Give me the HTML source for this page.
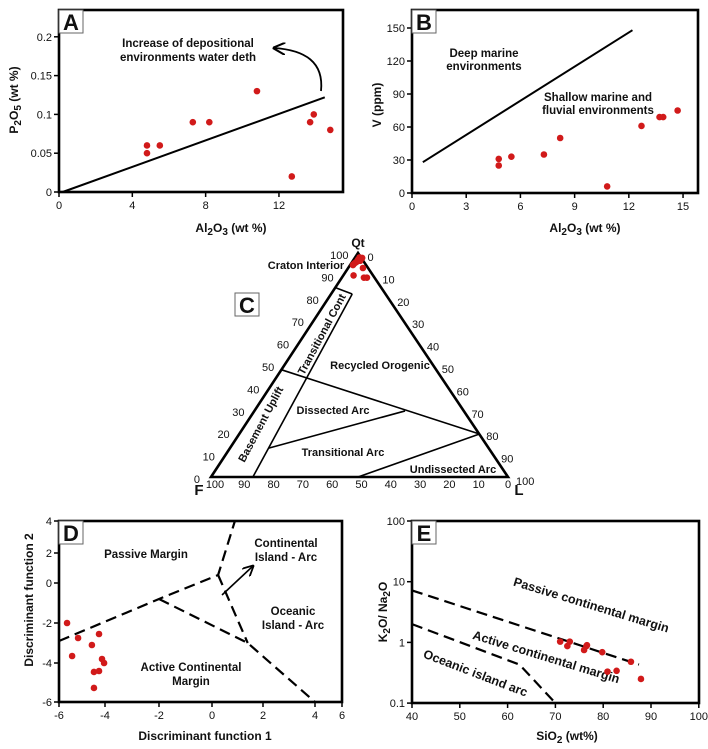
<!DOCTYPE html>
<html><head><meta charset="utf-8">
<style>
html,body{margin:0;padding:0;background:#fff;}
svg{display:block;font-family:"Liberation Sans",Arial,sans-serif;}
.tk{font-size:11px;fill:#111;}
.tt{font-size:12px;font-weight:bold;fill:#111;}
.an{font-size:11.5px;font-weight:bold;fill:#111;}
</style></head>
<body>
<svg id="chart" width="708" height="749" viewBox="0 0 708 749" xmlns="http://www.w3.org/2000/svg">
<defs>
<marker id="ah" viewBox="0 0 10 10" refX="9" refY="5" markerWidth="7" markerHeight="7" orient="auto-start-reverse">
<path d="M0,0 L10,5 L0,10" fill="none" stroke="#000" stroke-width="1.6"/>
</marker>
</defs>
</svg>
<script>
// ---------- Panel A data ----------
const aAl2O3 = [4.8, 4.8, 5.5, 7.3, 8.2, 10.8, 12.7, 13.7, 13.9, 14.8];
const aP2O5 = [0.06, 0.05, 0.06, 0.09, 0.09, 0.13, 0.02, 0.09, 0.10, 0.08];
const aLineX = [0.2, 14.5];
const aLineY = [0.0, 0.122];
const aXTicks = [0, 4, 8, 12];
const aYTicks = [0, 0.05, 0.1, 0.15, 0.2];
const aYTickLabels = ["0", "0.05", "0.1", "0.15", "0.2"];
// ---------- Panel B data ----------
const bAl2O3 = [4.8, 4.8, 5.5, 7.3, 8.2, 10.8, 12.7, 13.7, 13.9, 14.7];
const bV = [31, 25, 33, 35, 50, 6, 61, 69, 69, 75];
const bLineX = [0.6, 12.2];
const bLineY = [28, 148];
const bXTicks = [0, 3, 6, 9, 12, 15];
const bYTicks = [0, 30, 60, 90, 120, 150];
// ---------- Panel C data (Qt, F, L %) ----------
const cQt = [98, 95.5, 94.6, 97, 97.8, 93.3, 90, 89, 89, 96, 95, 96.5];
const cF = [1, 3.8, 4.9, 2, 0.2, 2.2, 7, 4, 3, 3, 4.5, 1.5];
const cL = [1, 0.7, 0.5, 1, 2, 4.5, 3, 7, 8, 1, 0.5, 2];
const cAxisTicks = [0, 10, 20, 30, 40, 50, 60, 70, 80, 90, 100];
// ---------- Panel D data ----------
const dF1 = [-5.65, -5.17, -5.43, -4.26, -4.57, -4.13, -4.04, -4.48, -4.26, -4.48];
const dF2 = [-2.0, -2.75, -3.65, -2.55, -3.1, -3.8, -4.0, -4.46, -4.41, -5.28];
const dXTicks = [-6, -4, -2, 0, 2, 4, 6];
const dYTicks = [4, 2, 0, -2, -4, -6];
// ---------- Panel E data ----------
const eSiO2 = [71, 73, 72.5, 76.5, 76.6, 76, 79.8, 80.9, 82.8, 85.8, 87.9];
const eRatio = [1.03, 1.03, 0.87, 0.87, 0.9, 0.75, 0.69, 0.33, 0.34, 0.48, 0.25];
const eXTicks = [40, 50, 60, 70, 80, 90, 100];
const eYTicks = [0.1, 1, 10, 100];
const eYTickLabels = ["0.1", "1", "10", "100"];

const NS = "http://www.w3.org/2000/svg";
const svg = document.getElementById('chart');
function mk(tag, attrs, parent) {
  const e = document.createElementNS(NS, tag);
  for (const k in attrs) e.setAttribute(k, attrs[k]);
  (parent || svg).appendChild(e);
  return e;
}
function txt(x, y, s, cls, anchor, parent) {
  const t = mk('text', {x: x, y: y, class: cls, 'text-anchor': anchor || 'middle'}, parent);
  t.innerHTML = s;
  return t;
}
function frame(x0, y0, x1, y1, name) {
  const r = mk('rect', {x: x0, y: y0, width: x1 - x0, height: y1 - y0, fill: 'none', stroke: '#000', 'stroke-width': 2.6});
  
  
}
function letterBox(x, y, L, name) {
  const g = mk('g', {});
  
  
  mk('rect', {x: x, y: y, width: 24, height: 23, fill: '#fff', stroke: '#666', 'stroke-width': 1}, g);
  txt(x + 12, y + 20, L, 'tt', 'middle', g).setAttribute('style', 'font-size:22px');
}
function dot(x, y, g) {
  const c = mk('circle', {cx: x, cy: y, r: 3.3, fill: '#d11a1a'}, g);
  
  
}
function xTicks(ticks, labels, sx, yb, g) {
  ticks.forEach((v, i) => {
    const x = sx(v);
    mk('line', {x1: x, y1: yb, x2: x, y2: yb + 5, stroke: '#000', 'stroke-width': 1.5}, g);
    const t = txt(x, yb + 17, labels[i], 'tk', 'middle', g);
    
    
  });
}
function yTicks(ticks, labels, sy, xl, g) {
  ticks.forEach((v, i) => {
    const y = sy(v);
    mk('line', {x1: xl - 5, y1: y, x2: xl, y2: y, stroke: '#000', 'stroke-width': 1.5}, g);
    const t = txt(xl - 7, y + 4, labels[i], 'tk', 'end', g);
    
    
  });
}
function pw(dom, rng) {
  return v => {
    for (let i = 0; i < dom.length - 1; i++) {
      const a = dom[i], b = dom[i + 1];
      if ((v - a) * (v - b) <= 0 || i === dom.length - 2) {
        return rng[i] + (v - a) / (b - a) * (rng[i + 1] - rng[i]);
      }
    }
  };
}

// ================= Panel A =================
(function () {
  const g = mk('g', {});
  
  
  const sx = v => 59 + v * 18.33, sy = v => 192 - v * 776;
  xTicks(aXTicks, aXTicks.map(String), sx, 192, g);
  yTicks(aYTicks, aYTickLabels, sy, 59, g);
  const ln = mk('line', {x1: sx(aLineX[0]), y1: sy(aLineY[0]), x2: sx(aLineX[1]), y2: sy(aLineY[1]), stroke: '#000', 'stroke-width': 2}, g);
  
  
  const ar = mk('path', {d: 'M321,91 C324,62 305,50 274,48', fill: 'none', stroke: '#000', 'stroke-width': 1.8, 'marker-end': 'url(#ah)'}, g);
  
  
  const a1 = txt(188, 47, 'Increase of depositional', 'an', 'middle', g);
  
  
  const a2 = txt(188, 61, 'environments water deth', 'an', 'middle', g);
  
  
  aAl2O3.forEach((v, i) => dot(sx(v), sy(aP2O5[i]), g));
  const xt = txt(231, 232, 'Al<tspan dy="3" style="font-size:10px">2</tspan><tspan dy="-3">O</tspan><tspan dy="3" style="font-size:10px">3</tspan><tspan dy="-3"> (wt %)</tspan>', 'tt', 'middle', g);
  
  
  const yt = txt(0, 0, 'P<tspan dy="3" style="font-size:10px">2</tspan><tspan dy="-3">O</tspan><tspan dy="3" style="font-size:10px">5</tspan><tspan dy="-3"> (wt %)</tspan>', 'tt', 'middle', g);
  yt.setAttribute('transform', 'translate(18,100) rotate(-90)');
  
  
  frame(59, 10, 343, 192, 'plot-frame-a');
  letterBox(59, 10, 'A', 'panel-label-a');
})();

// ================= Panel B =================
(function () {
  const g = mk('g', {});
  
  
  const sx = v => 412 + v * 18.07, sy = v => 193 - v * 1.1;
  xTicks(bXTicks, bXTicks.map(String), sx, 193, g);
  yTicks(bYTicks, bYTicks.map(String), sy, 412, g);
  const ln = mk('line', {x1: sx(bLineX[0]), y1: sy(bLineY[0]), x2: sx(bLineX[1]), y2: sy(bLineY[1]), stroke: '#000', 'stroke-width': 2}, g);
  
  
  const t1 = txt(484, 57, 'Deep marine', 'an', 'middle', g);
  
  
  const t2 = txt(484, 70, 'environments', 'an', 'middle', g);
  
  
  const t3 = txt(598, 101, 'Shallow marine and', 'an', 'middle', g);
  
  
  const t4 = txt(598, 114, 'fluvial environments', 'an', 'middle', g);
  
  
  bAl2O3.forEach((v, i) => dot(sx(v), sy(bV[i]), g));
  const xt = txt(585, 232, 'Al<tspan dy="3" style="font-size:10px">2</tspan><tspan dy="-3">O</tspan><tspan dy="3" style="font-size:10px">3</tspan><tspan dy="-3"> (wt %)</tspan>', 'tt', 'middle', g);
  
  
  const yt = txt(0, 0, 'V (ppm)', 'tt', 'middle', g);
  yt.setAttribute('transform', 'translate(381,105) rotate(-90)');
  
  
  frame(412, 10, 698, 193, 'plot-frame-b');
  letterBox(412, 10, 'B', 'panel-label-b');
})();

// ================= Panel C (ternary) =================
(function () {
  const g = mk('g', {});
  
  
  const AX = 358, AY = 253, FX = 211, LX = 508, BY = 477;
  const W = LX - FX, H = BY - AY;
  const px = (qt, l) => FX + W * (l / 100 + qt / 200);
  const py = qt => BY - H * qt / 100;
  const tri = mk('path', {d: `M${FX},${BY} L${AX},${AY} L${LX},${BY} Z`, fill: 'none', stroke: '#000', 'stroke-width': 2.6, 'stroke-linejoin': 'miter'}, g);
  
  
  const segs = [
    [[84.4, 0], [81.7, 6.7]],
    [[81.7, 6.7], [0, 14.1]],
    [[47.8, 0], [19.2, 80.8]],
    [[12.9, 13], [29.5, 50.6]],
    [[0, 49.5], [19.2, 80.8]]
  ];
  segs.forEach(s => {
    const l = mk('line', {x1: px(s[0][0], s[0][1]), y1: py(s[0][0]), x2: px(s[1][0], s[1][1]), y2: py(s[1][0]), stroke: '#000', 'stroke-width': 1.6}, g);
    
    
  });
  cAxisTicks.forEach(v => {
    const tl = txt(px(v, 0) - 11, py(v) + 6, String(v), 'tk', 'end', g);
    
    
    const tr = txt(px(100 - v, v) + 8, py(100 - v) + 8, String(v), 'tk', 'start', g);
    
    
    const tb = txt(215 + 29.3 * (10 - v / 10), BY + 11, String(v), 'tk', 'middle', g);
    
    
  });
  cQt.forEach((q, i) => dot(px(q, cL[i]), py(q), g));
  const vq = txt(358, 247, 'Qt', 'tt', 'middle', g);
  
  
  const vf = txt(199, 495, 'F', 'tt', 'middle', g);
  vf.setAttribute('style', 'font-size:15px');
  
  
  const vl = txt(519, 495, 'L', 'tt', 'middle', g);
  vl.setAttribute('style', 'font-size:15px');
  
  
  const fl = [
    ['Craton Interior', 306, 269, 0, 'craton-interior-label'],
    ['Recycled Orogenic', 380, 369, 0, 'recycled-orogenic-label'],
    ['Dissected Arc', 333, 414, 0, 'dissected-arc-label'],
    ['Transitional Arc', 343, 456, 0, 'transitional-arc-label'],
    ['Undissected Arc', 453, 473, 0, 'undissected-arc-label']
  ];
  fl.forEach(f => {
    const t = txt(f[1], f[2], f[0], 'an', 'middle', g);
    t.setAttribute('style', 'font-size:11px');
    
    
  });
  const tc = txt(0, 0, 'Transitional Cont', 'an', 'middle', g);
  tc.setAttribute('style', 'font-size:11px');
  tc.setAttribute('transform', 'translate(325,336) rotate(-62)');
  
  
  const bu = txt(0, 0, 'Basement Uplift', 'an', 'middle', g);
  bu.setAttribute('style', 'font-size:11px');
  bu.setAttribute('transform', 'translate(264,426) rotate(-62)');
  
  
  letterBox(235, 293, 'C', 'panel-label-c');
})();

// ================= Panel D =================
(function () {
  const g = mk('g', {});
  
  
  const sx = pw([-6, -4, -2, 0, 2, 4, 6], [59, 105, 159, 212, 263, 315, 342]);
  const sy = pw([4, 2, 0, -2, -4, -6], [521, 553, 583, 623, 663, 702]);
  xTicks(dXTicks, dXTicks.map(String), sx, 702, g);
  yTicks(dYTicks, dYTicks.map(String), sy, 59, g);
  const paths = [
    [[-6, -2.9], [-2, -0.8], [0.24, 0.53], [0.9, 4]],
    [[-2, -0.8], [1.4, -3.0], [4.0, -6]],
    [[0.24, 0.53], [1.4, -3.0]]
  ];
  paths.forEach(p => {
    const d = p.map((q, i) => (i ? 'L' : 'M') + sx(q[0]).toFixed(1) + ',' + sy(q[1]).toFixed(1)).join(' ');
    const e = mk('path', {d: d, fill: 'none', stroke: '#000', 'stroke-width': 2.2, 'stroke-dasharray': '11,6'}, g);
    
    
  });
  const ar = mk('line', {x1: 222, y1: 595, x2: 253, y2: 566, stroke: '#000', 'stroke-width': 1.6, 'marker-end': 'url(#ah)'}, g);
  
  
  const lbs = [
    ['Passive Margin', 146, 558, 'passive-margin-label'],
    ['Continental', 286, 547, 'continental-arc-label'],
    ['Island - Arc', 286, 561, 'continental-arc-label-2'],
    ['Oceanic', 293, 615, 'oceanic-arc-label'],
    ['Island - Arc', 293, 629, 'oceanic-arc-label-2'],
    ['Active Continental', 191, 671, 'active-margin-label'],
    ['Margin', 191, 685, 'active-margin-label-2']
  ];
  lbs.forEach(l => {
    const t = txt(l[1], l[2], l[0], 'an', 'middle', g);
    
    
  });
  dF1.forEach((v, i) => dot(sx(v), sy(dF2[i]), g));
  const xt = txt(205, 740, 'Discriminant function 1', 'tt', 'middle', g);
  
  
  const yt = txt(0, 0, 'Discriminant function 2', 'tt', 'middle', g);
  yt.setAttribute('transform', 'translate(33,600) rotate(-90)');
  
  
  frame(59, 521, 342, 702, 'plot-frame-d');
  letterBox(59, 521, 'D', 'panel-label-d');
})();

// ================= Panel E =================
(function () {
  const g = mk('g', {});
  
  
  const sx = v => 412 + (v - 40) * 4.78;
  const sy = v => 521 + (2 - Math.log10(v)) * 60.7;
  xTicks(eXTicks, eXTicks.map(String), sx, 703, g);
  yTicks(eYTicks, eYTickLabels, sy, 412, g);
  const paths = [
    [[40, 7.2], [87.5, 0.43]],
    [[40, 2.0], [62.5, 0.43], [70, 0.1]]
  ];
  paths.forEach(p => {
    const d = p.map((q, i) => (i ? 'L' : 'M') + sx(q[0]).toFixed(1) + ',' + sy(q[1]).toFixed(1)).join(' ');
    const e = mk('path', {d: d, fill: 'none', stroke: '#000', 'stroke-width': 2.2, 'stroke-dasharray': '11,6'}, g);
    
    
  });
  const lbs = [
    ['Passive continental margin', 590, 609, 17, 'passive-margin-label'],
    ['Active continental margin', 545, 661, 17, 'active-margin-label'],
    ['Oceanic island arc', 474, 677, 21, 'oceanic-arc-label']
  ];
  lbs.forEach(l => {
    const t = txt(0, 0, l[0], 'an', 'middle', g);
    t.setAttribute('style', 'font-size:12.5px');
    t.setAttribute('transform', `translate(${l[1]},${l[2]}) rotate(${l[3]})`);
    
    
  });
  eSiO2.forEach((v, i) => dot(sx(v), sy(eRatio[i]), g));
  const xt = txt(567, 740, 'SiO<tspan dy="3" style="font-size:10px">2</tspan><tspan dy="-3"> (wt%)</tspan>', 'tt', 'middle', g);
  
  
  const yt = txt(0, 0, 'K<tspan dy="3" style="font-size:10px">2</tspan><tspan dy="-3">O/ Na</tspan><tspan dy="3" style="font-size:10px">2</tspan><tspan dy="-3">O</tspan>', 'tt', 'middle', g);
  yt.setAttribute('transform', 'translate(387,612) rotate(-90)');
  
  
  frame(412, 521, 699, 703, 'plot-frame-e');
  letterBox(412, 521, 'E', 'panel-label-e');
})();
</script>
</body></html>
